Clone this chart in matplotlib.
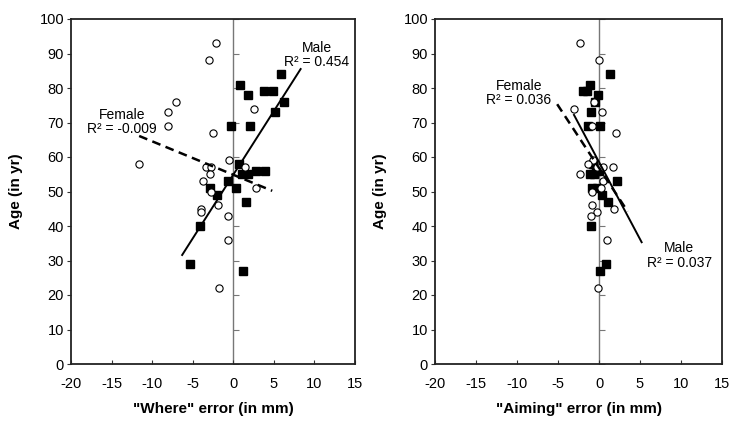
import matplotlib
matplotlib.use("Agg")
import matplotlib.pyplot as plt
import numpy as np

plt.rcParams['font.family'] = ['Liberation Sans', 'DejaVu Sans']
plt.rcParams['axes.unicode_minus'] = False

# ---------------- data ----------------
# Left panel: "Where" error
where_female_x = [-2.1, -3.0, -7.0, -8.1, -8.0, -2.5, -11.6, 2.6, -0.5, -3.4, -2.8, -2.9,
                  -3.7, -2.8, 1.4, 2.75, -1.9, -4.0, -3.95, -0.6, -0.6, -1.7]
where_female_y = [93, 88, 76, 73, 69, 67, 58, 74, 59, 57, 57, 55,
                  53, 50, 57, 51, 46, 45, 44, 43, 36, 22]
where_male_x = [0.8, 1.8, 3.8, 4.9, 5.9, 6.3, 5.2, -0.3, 2.1, 0.74, 1.07, 1.77,
                2.8, 3.95, -0.6, 0.33, -2.84, -2.06, 1.57, -4.07, -5.3, 1.2]
where_male_y = [81, 78, 79, 79, 84, 76, 73, 69, 69, 58, 55, 55,
                56, 56, 53, 51, 51, 49, 47, 40, 29, 27]
where_male_fit_x = [-6.3, 8.3]
where_male_fit_y = [31.6, 85.5]
where_female_fit_x = [-11.6, 4.8]
where_female_fit_y = [66.1, 50.2]

# Right panel: "Aiming" error
aim_female_x = [-2.3, 0.0, -0.6, -3.0, 0.4, -0.9, 2.1, -0.7, -1.4, 0.5, 1.7, -0.3,
                -2.3, 0.5, 0.24, -0.8, -0.9, 1.8, -0.24, -1.0, 0.98, -0.1]
aim_female_y = [93, 88, 76, 74, 73, 69, 67, 59, 58, 57, 57, 57,
                55, 53, 51, 50, 46, 45, 44, 43, 36, 22]
aim_male_x = [1.34, -1.06, -1.9, -1.5, -0.12, -0.5, -1.0, 0.1, -1.4, -0.7, 0.0, -0.4,
              -1.1, -0.6, 2.2, -0.8, -0.3, 0.37, 1.1, -1.0, 0.85, 0.16]
aim_male_y = [84, 81, 79, 79, 78, 76, 73, 69, 69, 58, 56, 56,
              55, 55, 53, 51, 51, 49, 47, 40, 29, 27]
aim_male_fit_x = [-3.05, 5.2]
aim_male_fit_y = [72.2, 35.3]
aim_female_fit_x = [-5.1, 3.5]
aim_female_fit_y = [75.3, 44.2]

x_ticks = [-20, -15, -10, -5, 0, 5, 10, 15]
y_ticks = [0, 10, 20, 30, 40, 50, 60, 70, 80, 90, 100]

# ---------------- figure ----------------
fig = plt.figure(figsize=(7.42, 4.26), dpi=100)
axL = fig.add_axes([71/742, 1 - 364/426, 284/742, 345/426])
axR = fig.add_axes([435/742, 1 - 364/426, 287/742, 345/426])

panels = [
    (axL, where_female_x, where_female_y, where_male_x, where_male_y,
     where_male_fit_x, where_male_fit_y, where_female_fit_x, where_female_fit_y,
     '"Where" error (in mm)'),
    (axR, aim_female_x, aim_female_y, aim_male_x, aim_male_y,
     aim_male_fit_x, aim_male_fit_y, aim_female_fit_x, aim_female_fit_y,
     '"Aiming" error (in mm)'),
]

for (ax, fx, fy, mx, my, mfx, mfy, ffx, ffy, xlabel) in panels:
    ax.set_xlim(-20, 15)
    ax.set_ylim(0, 100)
    ax.set_xticks(x_ticks)
    ax.set_yticks(y_ticks)
    ax.tick_params(axis='x', direction='in', length=3, width=0.8, labelsize=10.5,
                   pad=9, color='#333333')
    ax.tick_params(axis='y', direction='out', length=3, width=0.8, labelsize=10.5,
                   pad=2, color='#333333')
    for sp in ax.spines.values():
        sp.set_linewidth(1.3)
        sp.set_color('#222222')
    # zero line with small ticks
    ax.axvline(0, color='#777777', lw=1.0, zorder=1)
    ax.plot(np.zeros(len(y_ticks)), y_ticks, linestyle='none', marker=1,
            markersize=4, color='#777777', mew=0.8, zorder=1)
    # points
    ax.plot(mx, my, linestyle='none', marker='s', markersize=5.2, color='black',
            mec='black', zorder=3)
    ax.plot(fx, fy, linestyle='none', marker='o', markersize=5.2, mfc='white',
            mec='black', mew=0.8, zorder=4)
    # trend lines
    ax.plot(mfx, mfy, color='black', lw=1.4, zorder=5)
    ax.plot(ffx, ffy, color='black', lw=1.8, linestyle=(0, (3.5, 2.2)), zorder=5)
    ax.set_xlabel(xlabel, fontsize=11, fontweight='bold', labelpad=8)
    ax.set_ylabel('Age (in yr)', fontsize=11, fontweight='bold', labelpad=12)

# annotations (left)
axL.text(10.3, 89.6, 'Male\nR² = 0.454', ha='center', va='center',
         fontsize=10, linespacing=1.05)
axL.text(-13.7, 70.1, 'Female\nR² = -0.009', ha='center', va='center',
         fontsize=10, linespacing=1.05)
# annotations (right)
axR.text(-9.8, 78.5, 'Female\nR² = 0.036', ha='center', va='center',
         fontsize=10, linespacing=1.05)
axR.text(9.8, 31.4, 'Male\nR² = 0.037', ha='center', va='center',
         fontsize=10, linespacing=1.05)

fig.savefig('out.png', dpi=100)
